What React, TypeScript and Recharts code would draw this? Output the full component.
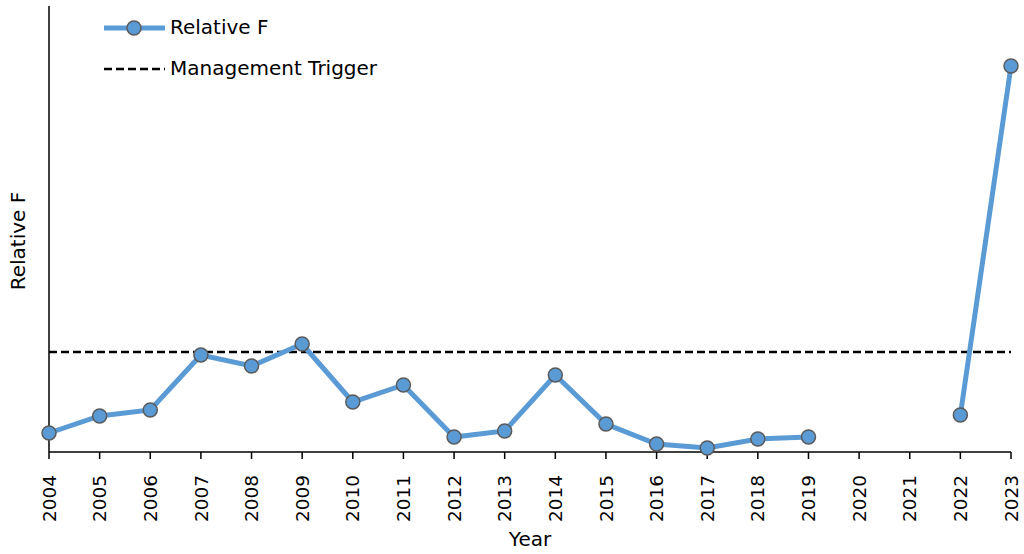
import React from "react";
import { LineChart, Line, XAxis, YAxis, ReferenceLine, Label } from "recharts";

const years = [
  "2004", "2005", "2006", "2007", "2008", "2009", "2010", "2011", "2012", "2013",
  "2014", "2015", "2016", "2017", "2018", "2019", "2020", "2021", "2022", "2023",
];
const relativeF: (number | null)[] = [
  0.19, 0.36, 0.42, 0.97, 0.86, 1.08, 0.5, 0.67, 0.15, 0.21,
  0.77, 0.28, 0.08, 0.04, 0.13, 0.15, null, null, 0.37, 3.86,
];
const managementTrigger = 1.0;
const yMax = 4.46;

const FONT = "'DejaVu Sans', Verdana, sans-serif";
const BLUE = "#5B9BD5";

const data = years.map((year, i) => ({ year, relF: relativeF[i] }));

function YearTick(props: any) {
  const { x, y, payload } = props;
  return (
    <text
      x={x}
      y={y}
      transform={`rotate(-90 ${x} ${y})`}
      textAnchor="end"
      dy="0.36em"
      fontSize={18.5}
      fontFamily={FONT}
      fill="#000"
    >
      {payload.value}
    </text>
  );
}

function LegendBox() {
  return (
    <div
      style={{
        position: "absolute",
        left: 104,
        top: 7,
        fontFamily: FONT,
        fontSize: 20,
        color: "#000",
        lineHeight: "41px",
      }}
    >
      <div style={{ display: "flex", alignItems: "center" }}>
        <svg width={66} height={20}>
          <line x1={0} y1={10} x2={61} y2={10} stroke={BLUE} strokeWidth={5} />
          <circle cx={30} cy={10} r={7} fill={BLUE} stroke="#5a5a5a" strokeWidth={1.5} />
        </svg>
        <span>Relative F</span>
      </div>
      <div style={{ display: "flex", alignItems: "center" }}>
        <svg width={66} height={20}>
          <line x1={0} y1={10} x2={61} y2={10} stroke="#000" strokeWidth={2.5} strokeDasharray="8 4" />
        </svg>
        <span>Management Trigger</span>
      </div>
    </div>
  );
}

export default function App() {
  return (
    <div style={{ position: "absolute", left: 0, top: 0, width: 1024, height: 554, background: "#fff" }}>
      <LineChart width={1024} height={554} data={data} margin={{ top: 6, right: 13, left: 0, bottom: 0 }}>
        <XAxis
          dataKey="year"
          height={102}
          tick={<YearTick />}
          tickSize={7}
          tickMargin={16}
          interval={0}
          axisLine={{ stroke: "#000", strokeWidth: 1.5 }}
          tickLine={{ stroke: "#000", strokeWidth: 1.5 }}
        >
          <Label
            value="Year"
            position="insideBottom"
            offset={8}
            style={{ fontSize: 20, fontFamily: FONT, fill: "#000" }}
          />
        </XAxis>
        <YAxis
          width={49}
          domain={[0, yMax]}
          tick={false}
          tickLine={false}
          axisLine={{ stroke: "#000", strokeWidth: 1.5 }}
        >
          <Label
            content={(p: any) => {
              const vb = p.viewBox || { x: 0, y: 6, width: 49, height: 446 };
              const cx = vb.x + 18;
              const cy = vb.y + vb.height / 2 + 12;
              return (
                <text
                  x={cx}
                  y={cy}
                  transform={`rotate(-90 ${cx} ${cy})`}
                  textAnchor="middle"
                  dy="0.36em"
                  fontSize={20}
                  fontFamily={FONT}
                  fill="#000"
                >
                  Relative F
                </text>
              );
            }}
          />
        </YAxis>
        <ReferenceLine y={managementTrigger} stroke="#000" strokeWidth={2.5} strokeDasharray="8 4" />
        <Line
          type="linear"
          dataKey="relF"
          stroke={BLUE}
          strokeWidth={5}
          connectNulls={false}
          dot={{ r: 7, fill: BLUE, stroke: "#5a5a5a", strokeWidth: 1.5 }}
          activeDot={false}
          isAnimationActive={false}
        />
      </LineChart>
      <LegendBox />
    </div>
  );
}
